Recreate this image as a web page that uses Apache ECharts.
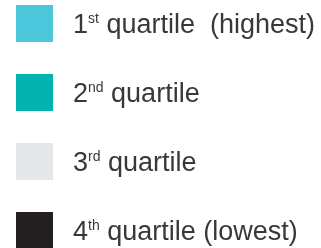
<!DOCTYPE html>
<html>
<head>
<meta charset="utf-8">
<script src="https://cdn.jsdelivr.net/npm/echarts@6/dist/echarts.min.js"></script>
<style>
  html, body { margin: 0; padding: 0; background: #fff; }
  #legendBox { width: 321px; height: 248px; }
</style>
</head>
<body>
<div id="legendBox"></div>
<script>
// quartile legend entries
var quartNum = ['1', '2', '3', '4'];
var quartSup = ['st', 'nd', 'rd', 'th'];
var quartText = [' quartile  (highest)', ' quartile', ' quartile', ' quartile (lowest)'];
var quartColors = ['#4cc6da', '#00b3b1', '#e5e6e8', '#231f20'];

var names = [];
var seriesList = [];
for (var i = 0; i < quartNum.length; i++) {
	var nm = quartNum[i] + quartSup[i] + quartText[i];
	names.push(nm);
	seriesList.push({
		name: nm,
		type: 'bar',
		data: [],
		itemStyle: { color: quartColors[i] }
	});
}

var myChart = echarts.init(document.getElementById('legendBox'), null, { renderer: 'canvas' });
var option = {
	animation: false,
	xAxis: { show: false, type: 'category', data: [] },
	yAxis: { show: false },
	legend: {
		data: names,
		orient: 'vertical',
		left: 16,
		top: 5,
		height: 300,
		padding: 0,
		icon: 'rect',
		itemWidth: 37,
		itemHeight: 37,
		itemGap: 32,
		selectedMode: false,
		formatter: function (name) {
			var idx = names.indexOf(name);
			return '{a|' + quartNum[idx] + '}{s|' + quartSup[idx] + '}{a|' + quartText[idx] + '}';
		},
		textStyle: {
			padding: [5, 0, 0, 15],
			rich: {
				a: { fontFamily: 'Liberation Sans', fontSize: 27, color: '#383838', lineHeight: 28 },
				s: { fontFamily: 'Liberation Sans', fontSize: 14, color: '#383838', verticalAlign: 'top', lineHeight: 15 }
			}
		}
	},
	series: seriesList
};
myChart.setOption(option);
</script>
</body>
</html>
